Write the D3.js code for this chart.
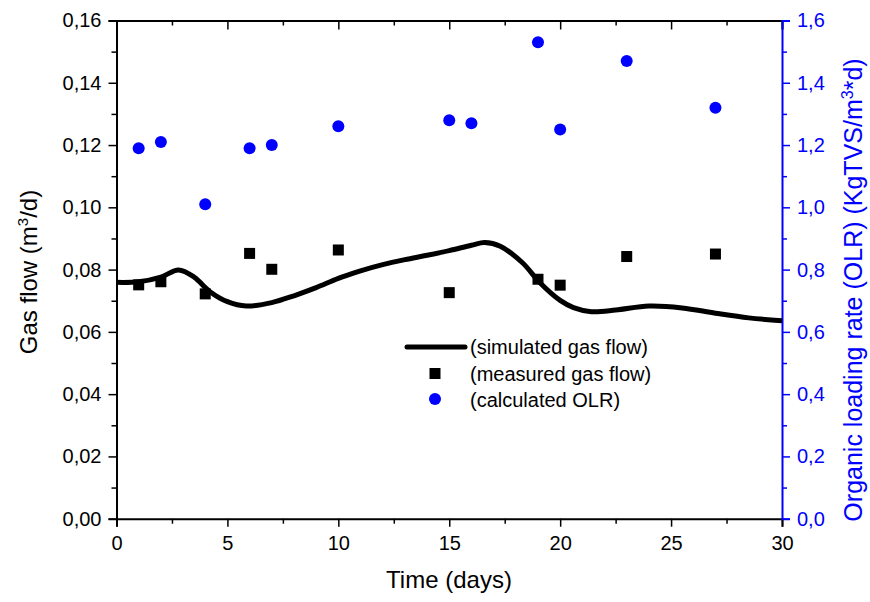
<!DOCTYPE html>
<html>
<head>
<meta charset="utf-8">
<script src="https://cdn.jsdelivr.net/npm/d3@7"></script>
<style>
  body { margin: 0; background: #fff; }
  svg { font-family: "Liberation Sans", Arial, sans-serif; }
</style>
</head>
<body>
<div id="chart"></div>
<script>
// simulated gas flow curve (day, m3/d)
var simDays = [0, 1, 2, 2.8, 3.5, 4.2, 5, 5.85, 7, 8, 9, 10, 11, 12, 13, 14, 15, 16, 16.6, 17.3, 18.3, 19.1, 20, 20.6, 21.4, 22.5, 24, 25.5, 27, 28.5, 30];
var simFlow = [0.0759, 0.0761, 0.0776, 0.0799, 0.0776, 0.0730, 0.0697, 0.0683, 0.0694, 0.0716, 0.0742, 0.0772, 0.0796, 0.0816, 0.0832, 0.0846, 0.0861, 0.0878, 0.0887, 0.0875, 0.0822, 0.0757, 0.0701, 0.0678, 0.0665, 0.0670, 0.0683, 0.0677, 0.0660, 0.0645, 0.0636];

// measured gas flow
var measDays = [1, 2, 4, 6, 7, 10, 15, 19, 20, 23, 27];
var measFlow = [0.0751, 0.0761, 0.0722, 0.0852, 0.0801, 0.0863, 0.0726, 0.0769, 0.0750, 0.0842, 0.0850];

// calculated OLR
var olrDays = [1, 2, 4, 6, 7, 10, 15, 16, 19, 20, 23, 27];
var olrVals = [1.19, 1.21, 1.01, 1.19, 1.20, 1.26, 1.28, 1.27, 1.53, 1.25, 1.47, 1.32];

var xTicks = [0, 5, 10, 15, 20, 25, 30];
var yLeftTicks = [0, 0.02, 0.04, 0.06, 0.08, 0.10, 0.12, 0.14, 0.16];
var yRightTicks = [0, 0.2, 0.4, 0.6, 0.8, 1.0, 1.2, 1.4, 1.6];

var legendLabels = ["(simulated gas flow)", "(measured gas flow)", "(calculated OLR)"];

var W = 870, H = 602;
var plotL = 116.5, plotR = 782, plotT = 20.5, plotB = 518.7;
var blue = "#0000ff";
var comma = function (fmt) { return function (d) { return d3.format(fmt)(d).replace(".", ","); }; };

var svg = d3.select("#chart").append("svg").attr("width", W).attr("height", H);

var x = d3.scaleLinear().domain([0, 30]).range([plotL, plotR]);
var yL = d3.scaleLinear().domain([0, 0.16]).range([plotB, plotT]);
var yR = d3.scaleLinear().domain([0, 1.6]).range([plotB, plotT]);

function styleAxis(g, color) {
	g.selectAll("path").attr("stroke", color).attr("stroke-width", 2);
	g.selectAll("line").attr("stroke", color).attr("stroke-width", 1.5);
	g.selectAll("text").attr("fill", color).style("font-size", "20px");
}

// minor ticks between the majors
function minors(scale, step, majorStep) {
	var d = scale.domain(), out = [];
	for (var v = d[0]; v <= d[1] + 1e-9; v += step) {
		var r = v / majorStep;
		if (Math.abs(r - Math.round(r)) > 1e-6) out.push(v);
	}
	return out;
}

// bottom axis
var gB = svg.append("g").attr("transform", "translate(0," + plotB + ")")
	.call(d3.axisBottom(x).tickValues(xTicks).tickSize(8).tickPadding(9).tickFormat(d3.format("d")));
styleAxis(gB, "#000");
svg.append("g").attr("transform", "translate(0," + plotB + ")")
	.call(d3.axisBottom(x).tickValues(minors(x, 2.5, 5)).tickSize(5).tickFormat(""))
	.call(function (g) { g.select("path").remove(); styleAxis(g, "#000"); });

// top axis, ticks pointing inward
var gT = svg.append("g").attr("transform", "translate(0," + plotT + ")")
	.call(d3.axisBottom(x).tickValues(xTicks).tickSize(9).tickFormat(""));
styleAxis(gT, "#000");
svg.append("g").attr("transform", "translate(0," + plotT + ")")
	.call(d3.axisBottom(x).tickValues(minors(x, 2.5, 5)).tickSize(5).tickFormat(""))
	.call(function (g) { g.select("path").remove(); styleAxis(g, "#000"); });

// left axis
var gL = svg.append("g").attr("transform", "translate(" + plotL + ",0)")
	.call(d3.axisLeft(yL).tickValues(yLeftTicks).tickSize(8).tickPadding(7).tickFormat(comma(".2f")));
styleAxis(gL, "#000");
svg.append("g").attr("transform", "translate(" + plotL + ",0)")
	.call(d3.axisLeft(yL).tickValues(minors(yL, 0.01, 0.02)).tickSize(5).tickFormat(""))
	.call(function (g) { g.select("path").remove(); styleAxis(g, "#000"); });

// right axis (blue)
var gR = svg.append("g").attr("transform", "translate(" + plotR + ",0)")
	.call(d3.axisRight(yR).tickValues(yRightTicks).tickSize(8).tickPadding(7).tickFormat(comma(".1f")));
styleAxis(gR, blue);
svg.append("g").attr("transform", "translate(" + plotR + ",0)")
	.call(d3.axisRight(yR).tickValues(minors(yR, 0.1, 0.2)).tickSize(5).tickFormat(""))
	.call(function (g) { g.select("path").remove(); styleAxis(g, blue); });

// simulated curve
var sim = simDays.map(function (d, i) { return [d, simFlow[i]]; });
svg.append("path")
	.datum(sim)
	.attr("fill", "none")
	.attr("stroke", "#000")
	.attr("stroke-width", 5)
	.attr("stroke-linejoin", "round")
	.attr("d", d3.line().x(function (d) { return x(d[0]); }).y(function (d) { return yL(d[1]); }).curve(d3.curveCatmullRom.alpha(0.5)));

// measured squares
svg.selectAll("rect.meas")
	.data(measDays.map(function (d, i) { return [d, measFlow[i]]; }))
	.enter().append("rect")
	.attr("class", "meas")
	.attr("x", function (d) { return x(d[0]) - 5.5; })
	.attr("y", function (d) { return yL(d[1]) - 5.5; })
	.attr("width", 11).attr("height", 11)
	.attr("fill", "#000");

// OLR circles
svg.selectAll("circle.olr")
	.data(olrDays.map(function (d, i) { return [d, olrVals[i]]; }))
	.enter().append("circle")
	.attr("class", "olr")
	.attr("cx", function (d) { return x(d[0]); })
	.attr("cy", function (d) { return yR(d[1]); })
	.attr("r", 6)
	.attr("fill", blue);

// axis titles
svg.append("text").attr("x", 449).attr("y", 588)
	.attr("text-anchor", "middle").style("font-size", "24px").text("Time (days)");

var tl = svg.append("text").attr("transform", "translate(37,272) rotate(-90)")
	.attr("text-anchor", "middle").style("font-size", "24px");
tl.append("tspan").text("Gas flow (m");
tl.append("tspan").attr("dy", -9).style("font-size", "15px").text("3");
tl.append("tspan").attr("dy", 9).text("/d)");

var tr = svg.append("text").attr("transform", "translate(862,290) rotate(-90)")
	.attr("text-anchor", "middle").attr("fill", blue).style("font-size", "25px");
tr.append("tspan").text("Organic loading rate (OLR) (KgTVS/m");
tr.append("tspan").attr("dy", -9).style("font-size", "16px").text("3");
tr.append("tspan").attr("dy", 9).text("*d)");

// legend
var lg = svg.append("g").attr("transform", "translate(407,347)");
lg.append("line").attr("x1", 0).attr("x2", 58).attr("y1", 0).attr("y2", 0)
	.attr("stroke", "#000").attr("stroke-width", 5).attr("stroke-linecap", "round");
lg.append("rect").attr("x", 22.5).attr("y", 21).attr("width", 11).attr("height", 11).attr("fill", "#000");
lg.append("circle").attr("cx", 28).attr("cy", 52).attr("r", 6).attr("fill", blue);
lg.selectAll("text.lab")
	.data(legendLabels)
	.enter().append("text")
	.attr("class", "lab")
	.attr("x", 63)
	.attr("y", function (d, i) { return i * 26.5; })
	.attr("dy", "0.35em")
	.style("font-size", "20px")
	.text(function (d) { return d; });
</script>
</body>
</html>
